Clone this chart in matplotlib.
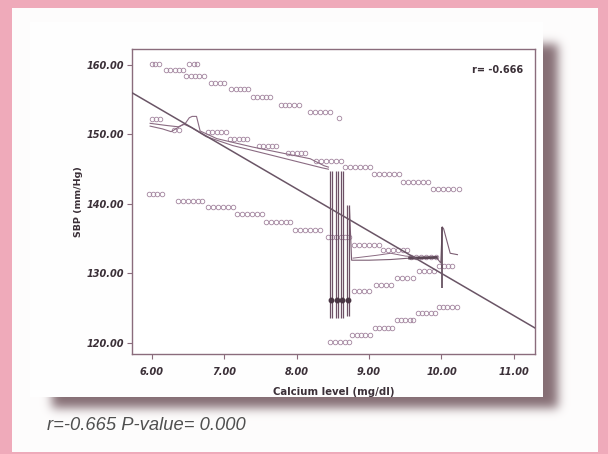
import numpy as np
import matplotlib
matplotlib.use("Agg")
import matplotlib.pyplot as plt

# ---- data -------------------------------------------------------------
# Each band: list of (SBP value, calcium levels of the cases at that value)
upper_band = [
    (160.2, [6.00, 6.05, 6.10]),
    (159.3, [6.20, 6.26, 6.32, 6.38, 6.43]),
    (160.2, [6.52, 6.58, 6.63]),
    (158.4, [6.48, 6.54, 6.60, 6.66, 6.72]),
    (157.4, [6.82, 6.88, 6.94, 7.00]),
    (156.5, [7.10, 7.16, 7.22, 7.28, 7.33]),
    (155.4, [7.40, 7.46, 7.52, 7.58, 7.64]),
    (154.3, [7.78, 7.84, 7.90, 7.96, 8.03]),
    (153.3, [8.18, 8.25, 8.32, 8.39, 8.46]),
    (152.3, [8.58]),
]
middle_band = [
    (152.2, [6.00, 6.06, 6.12]),
    (150.7, [6.31, 6.38]),
    (150.3, [6.78, 6.84, 6.90, 6.96, 7.02]),
    (149.4, [7.08, 7.14, 7.20, 7.26, 7.32]),
    (148.4, [7.48, 7.54, 7.60, 7.66, 7.72]),
    (147.4, [7.88, 7.94, 8.00, 8.06, 8.12]),
    (146.2, [8.27, 8.34, 8.41, 8.48, 8.55, 8.61]),
    (145.3, [8.67, 8.74, 8.81, 8.88, 8.95, 9.02]),
    (144.3, [9.07, 9.14, 9.21, 9.28, 9.35, 9.42]),
    (143.2, [9.47, 9.54, 9.61, 9.68, 9.75, 9.82]),
    (142.1, [9.88, 9.95, 10.02, 10.09, 10.16, 10.24]),
]
lower_band = [
    (141.4, [5.96, 6.02, 6.08, 6.14]),
    (140.4, [6.36, 6.43, 6.50, 6.57, 6.64, 6.70]),
    (139.5, [6.78, 6.85, 6.92, 6.99, 7.06, 7.12]),
    (138.5, [7.18, 7.25, 7.32, 7.39, 7.46, 7.52]),
    (137.4, [7.58, 7.65, 7.72, 7.79, 7.86, 7.91]),
    (136.3, [7.98, 8.05, 8.12, 8.19, 8.26, 8.33]),
    (135.2, [8.43, 8.49, 8.55, 8.61, 8.67, 8.73]),
    (134.1, [8.79, 8.86, 8.93, 9.00, 9.07, 9.14]),
    (133.3, [9.19, 9.26, 9.33, 9.40, 9.47, 9.53]),
    (132.3, [9.58, 9.65, 9.72, 9.79, 9.86, 9.92]),
    (130.3, [9.69, 9.76, 9.83, 9.90]),
    (131.1, [9.97, 10.03, 10.09, 10.15]),
]
rising_band = [
    (127.4, [8.79, 8.86, 8.93, 9.00]),
    (128.3, [9.09, 9.16, 9.23, 9.30]),
    (129.3, [9.39, 9.46, 9.53, 9.60]),
]
bottom_band = [
    (120.1, [8.46, 8.53, 8.60, 8.67, 8.73]),
    (121.1, [8.77, 8.83, 8.89, 8.95, 9.01]),
    (122.1, [9.08, 9.14, 9.20, 9.26, 9.32]),
    (123.3, [9.38, 9.44, 9.50, 9.56, 9.61]),
    (124.3, [9.67, 9.73, 9.79, 9.85, 9.91]),
    (125.2, [9.96, 10.02, 10.08, 10.14, 10.21]),
]

# interpolation traces through the sorted cases
trace_a_x = [5.98, 6.20, 6.37, 6.46, 6.52, 6.56, 6.62, 6.67, 6.90, 7.39, 8.19, 8.38, 8.44]
trace_a_y = [151.6, 151.3, 151.1, 151.5, 152.4, 152.6, 152.6, 150.5, 149.4, 148.2, 146.5, 145.5, 145.3]
trace_b_x = [5.98, 6.15, 6.27, 6.35, 6.44, 6.55, 6.75, 7.12, 7.66, 8.35, 8.44]
trace_b_y = [151.2, 150.8, 150.4, 150.9, 151.5, 151.0, 149.7, 148.4, 147.0, 145.2, 145.0]
trace_c_x = [8.73, 8.76, 9.00, 9.30, 9.56, 9.93, 9.99, 10.01, 10.03, 10.12, 10.22]
trace_c_y = [139.5, 131.9, 131.9, 132.0, 132.2, 132.3, 131.5, 136.7, 136.4, 132.9, 132.7]
trace_d_x = [8.78, 9.10, 9.30, 9.50, 9.62]
trace_d_y = [132.2, 132.6, 132.9, 132.5, 132.4]

# spread bars at the modal calcium levels
bar_x = [8.46, 8.49, 8.54, 8.57, 8.61, 8.64]
bar_top = [144.8, 144.8, 144.8, 144.8, 144.8, 144.8]
bar_bottom = [123.6, 123.6, 123.6, 123.6, 123.6, 123.6]
bar2_x = [8.70, 8.73]
bar2_top = [139.9, 139.9]
bar2_bottom = [123.8, 123.8]
bar_mark_x = [8.475, 8.555, 8.625, 8.715]
bar_mark_y = [126.2, 126.2, 126.2, 126.2]
cross_x = 10.01
cross_top = 136.7
cross_bottom = 127.9

# least-squares fit line
fit_intercept = 190.9
fit_slope = -6.09

x_ticks = [6, 7, 8, 9, 10, 11]
y_ticks = [120, 130, 140, 150, 160]

# ---- figure -----------------------------------------------------------
W, H = 608, 454
fig = plt.figure(figsize=(W / 100, H / 100), dpi=100)

# background: pink mount, white card, panel with soft drop shadow
pink = np.array([0.94, 0.67, 0.73])
card = np.array([0.995, 0.99, 0.99])
shade = np.array([0.42, 0.31, 0.34])
img = np.ones((H, W, 3)) * pink
img[8:452, 12:598] = card

mask = np.zeros((H, W))
mask[44:408, 52:558] = 1.0
k = np.exp(-0.5 * (np.arange(-15, 16) / 5.0) ** 2)
k /= k.sum()
mask = np.apply_along_axis(lambda r: np.convolve(r, k, mode="same"), 1, mask)
mask = np.apply_along_axis(lambda c: np.convolve(c, k, mode="same"), 0, mask)
a = (mask * 0.82)[..., None]
region = img[8:452, 12:598]
img[8:452, 12:598] = region * (1 - a[8:452, 12:598]) + shade * a[8:452, 12:598]
img[22:397, 30:543] = np.array([0.998, 0.997, 0.997])

bg = fig.add_axes([0, 0, 1, 1], zorder=-10)
bg.imshow(img, extent=[0, W, H, 0], aspect="auto", interpolation="bilinear")
bg.set_xlim(0, W)
bg.set_ylim(H, 0)
bg.axis("off")

ax = fig.add_axes([132 / W, 1 - 354 / H, (535 - 132) / W, (354 - 49) / H])
ax.set_facecolor("white")
ax.set_xlim(5.73, 11.29)
ax.set_ylim(118.4, 162.3)

frame_col = "#8a6c7c"
mark_col = "#a2849e"
dark = "#5b4655"

for band in (upper_band, middle_band, lower_band, rising_band, bottom_band):
    xs = [x for y, row in band for x in row]
    ys = [y for y, row in band for x in row]
    ax.plot(xs, ys, linestyle="none", marker="o", ms=3.3, mfc="none",
            mec=mark_col, mew=0.6, zorder=3)

ax.plot(trace_a_x, trace_a_y, color="#8a6b82", lw=0.8, zorder=4)
ax.plot(trace_b_x, trace_b_y, color="#8a6b82", lw=0.8, zorder=4)
ax.plot(trace_c_x, trace_c_y, color="#7c5f74", lw=0.8, zorder=4)
ax.plot(trace_d_x, trace_d_y, color="#8a6b82", lw=0.7, zorder=4)
ax.plot([trace_c_x[4], trace_c_x[5]], [trace_c_y[4], trace_c_y[5]],
        color=dark, lw=2.0, zorder=4)

ax.vlines(bar_x, bar_bottom, bar_top, color="#6d5166", lw=0.9, zorder=4)
ax.vlines(bar2_x, bar2_bottom, bar2_top, color="#6d5166", lw=0.9, zorder=4)
ax.plot(bar_mark_x, bar_mark_y, linestyle="none", marker="o", ms=3.2,
        color="#4a3645", zorder=5)
ax.vlines([cross_x], [cross_bottom], [cross_top], color=dark, lw=1.2, zorder=5)

xl = np.array(ax.get_xlim())
ax.plot(xl, fit_intercept + fit_slope * xl, color="#6a5566", lw=1.1, zorder=6)

for s in ax.spines.values():
    s.set_color(frame_col)
    s.set_linewidth(1.0)

ax.set_xticks(x_ticks)
ax.set_xticklabels([f"{v:.2f}" for v in x_ticks])
ax.set_yticks(y_ticks)
ax.set_yticklabels([f"{v:.2f}" for v in y_ticks])
ax.tick_params(direction="out", length=3.5, width=0.8, color=frame_col,
               labelsize=7, labelcolor="#3b3038")
ax.tick_params(axis="y", pad=2.5)
ax.tick_params(axis="x", pad=6)
for lab in ax.get_xticklabels() + ax.get_yticklabels():
    lab.set_fontweight("bold")
    lab.set_fontstyle("italic")

ax.set_xlabel("Calcium level (mg/dl)", fontsize=7.3, fontweight="bold",
              color="#3b3038", labelpad=7)
ax.set_ylabel("SBP (mm/Hg)", fontsize=6.8, fontweight="bold",
              color="#3b3038", labelpad=2)

ax.text(0.97, 0.93, "r= -0.666", transform=ax.transAxes, ha="right",
        va="center", fontsize=7, fontweight="bold", color="#3b3038")

fig.text(47 / W, 1 - 426 / H, "r=-0.665 P-value= 0.000",
         fontfamily="Liberation Sans", fontstyle="italic", fontsize=13.2,
         color="#505050", ha="left", va="center")

fig.savefig("out.png", dpi=100)
